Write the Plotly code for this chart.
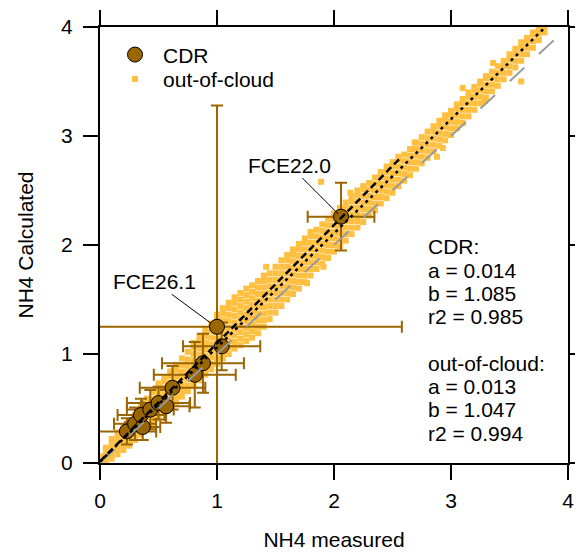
import plotly.graph_objects as go

# ---------------- data ----------------
# CDR points (NH4 measured, NH4 calculated) with error bars
cdr_x = [0.23, 0.30, 0.365, 0.35, 0.43, 0.50, 0.565, 0.62, 0.81, 0.88, 1.04, 1.00, 2.06]
cdr_y = [0.29, 0.36, 0.33, 0.44, 0.49, 0.55, 0.52, 0.69, 0.81, 0.915, 1.07, 1.25, 2.26]
cdr_ex = [0.25, 0.18, 0.15, 0.20, 0.20, 0.27, 0.20, 0.28, 0.35, 0.35, 0.33, 1.58, 0.285]
cdr_ey = [0.12, 0.15, 0.12, 0.15, 0.18, 0.15, 0.15, 0.20, 0.30, 0.27, 0.22, 2.03, 0.31]

# out-of-cloud points, read column by column from the dense band
ooc_columns = [
    (0.00, [-0.01, 0.03, 0.06]),
    (0.05, [0.00, 0.05, 0.10, 0.14]),
    (0.10, [0.04, 0.09, 0.14, 0.19, 0.22]),
    (0.15, [0.08, 0.13, 0.18, 0.23, 0.28]),
    (0.20, [0.12, 0.17, 0.22, 0.28, 0.33]),
    (0.25, [0.16, 0.21, 0.27, 0.33, 0.39]),
    (0.30, [0.21, 0.26, 0.32, 0.38, 0.44]),
    (0.35, [0.26, 0.31, 0.37, 0.43, 0.49, 0.52]),
    (0.40, [0.31, 0.36, 0.42, 0.48, 0.54, 0.59]),
    (0.45, [0.36, 0.41, 0.47, 0.53, 0.59, 0.65]),
    (0.50, [0.41, 0.46, 0.52, 0.58, 0.64, 0.70, 0.73]),
    (0.55, [0.46, 0.51, 0.57, 0.63, 0.69, 0.75, 0.78]),
    (0.60, [0.51, 0.56, 0.62, 0.68, 0.74, 0.80, 0.84]),
    (0.65, [0.56, 0.61, 0.67, 0.73, 0.79, 0.85, 0.90]),
    (0.70, [0.61, 0.66, 0.72, 0.78, 0.84, 0.90, 0.96]),
    (0.75, [0.66, 0.71, 0.77, 0.83, 0.89, 0.95, 1.02]),
    (0.80, [0.71, 0.76, 0.82, 0.88, 0.94, 1.00, 1.06, 1.10]),
    (0.85, [0.76, 0.81, 0.87, 0.93, 0.99, 1.05, 1.11, 1.16]),
    (0.90, [0.81, 0.86, 0.92, 0.98, 1.04, 1.10, 1.16, 1.22]),
    (0.95, [0.86, 0.91, 0.97, 1.03, 1.09, 1.15, 1.21, 1.28]),
    (1.00, [0.91, 0.96, 1.02, 1.08, 1.14, 1.20, 1.26, 1.32, 1.36]),
    (1.05, [0.96, 1.01, 1.07, 1.13, 1.19, 1.25, 1.31, 1.37, 1.42]),
    (1.10, [1.00, 1.06, 1.12, 1.18, 1.24, 1.30, 1.36, 1.42, 1.47]),
    (1.15, [1.05, 1.11, 1.17, 1.23, 1.29, 1.35, 1.41, 1.47, 1.52]),
    (1.20, [1.08, 1.14, 1.20, 1.26, 1.32, 1.38, 1.44, 1.50, 1.56]),
    (1.25, [1.12, 1.18, 1.24, 1.30, 1.36, 1.42, 1.48, 1.54, 1.60]),
    (1.30, [1.15, 1.21, 1.27, 1.33, 1.39, 1.45, 1.51, 1.57, 1.63]),
    (1.35, [1.19, 1.25, 1.31, 1.37, 1.43, 1.49, 1.55, 1.61, 1.67]),
    (1.40, [1.25, 1.31, 1.37, 1.43, 1.49, 1.55, 1.61, 1.67, 1.72]),
    (1.45, [1.32, 1.38, 1.44, 1.50, 1.56, 1.62, 1.68, 1.74]),
    (1.50, [1.38, 1.44, 1.50, 1.56, 1.62, 1.68, 1.74, 1.80]),
    (1.55, [1.44, 1.50, 1.56, 1.62, 1.68, 1.74, 1.80, 1.86]),
    (1.60, [1.50, 1.56, 1.62, 1.68, 1.74, 1.80, 1.86, 1.91]),
    (1.65, [1.55, 1.61, 1.67, 1.73, 1.79, 1.85, 1.91, 1.96]),
    (1.70, [1.60, 1.66, 1.72, 1.78, 1.84, 1.90, 1.96, 2.01]),
    (1.75, [1.66, 1.72, 1.78, 1.84, 1.90, 1.96, 2.02, 2.06]),
    (1.80, [1.72, 1.78, 1.84, 1.90, 1.96, 2.02, 2.08, 2.12]),
    (1.85, [1.78, 1.84, 1.90, 1.96, 2.02, 2.08, 2.14]),
    (1.90, [1.83, 1.89, 1.95, 2.01, 2.07, 2.13, 2.19]),
    (1.95, [1.88, 1.94, 2.00, 2.06, 2.12, 2.18, 2.24]),
    (2.00, [1.94, 2.00, 2.06, 2.12, 2.18, 2.24, 2.29]),
    (2.05, [1.99, 2.05, 2.11, 2.17, 2.23, 2.29, 2.34]),
    (2.10, [2.04, 2.10, 2.16, 2.22, 2.28, 2.34, 2.39]),
    (2.15, [2.10, 2.16, 2.22, 2.28, 2.34, 2.40, 2.44]),
    (2.20, [2.16, 2.22, 2.28, 2.34, 2.40, 2.46, 2.50]),
    (2.25, [2.21, 2.27, 2.33, 2.39, 2.45, 2.51, 2.54]),
    (2.30, [2.27, 2.33, 2.39, 2.45, 2.51, 2.57]),
    (2.35, [2.32, 2.38, 2.44, 2.50, 2.56, 2.62]),
    (2.40, [2.38, 2.44, 2.50, 2.56, 2.62, 2.67]),
    (2.45, [2.43, 2.49, 2.55, 2.61, 2.67, 2.72]),
    (2.50, [2.48, 2.54, 2.60, 2.66, 2.72, 2.76]),
    (2.55, [2.54, 2.60, 2.66, 2.72, 2.78, 2.81]),
    (2.60, [2.59, 2.65, 2.71, 2.77, 2.83]),
    (2.65, [2.64, 2.70, 2.76, 2.82, 2.88]),
    (2.70, [2.70, 2.76, 2.82, 2.88, 2.94]),
    (2.75, [2.75, 2.81, 2.87, 2.93, 2.99]),
    (2.80, [2.80, 2.86, 2.92, 2.98, 3.04]),
    (2.85, [2.86, 2.92, 2.98, 3.04, 3.09]),
    (2.90, [2.91, 2.97, 3.03, 3.09, 3.14]),
    (2.95, [2.96, 3.02, 3.08, 3.14, 3.19]),
    (3.00, [3.01, 3.07, 3.13, 3.19, 3.23]),
    (3.05, [3.07, 3.13, 3.19, 3.25, 3.29]),
    (3.10, [3.12, 3.18, 3.24, 3.30, 3.34]),
    (3.15, [3.18, 3.24, 3.30, 3.36, 3.40]),
    (3.20, [3.24, 3.30, 3.36, 3.42, 3.45]),
    (3.25, [3.30, 3.36, 3.42, 3.48, 3.50]),
    (3.30, [3.35, 3.41, 3.47, 3.53, 3.55]),
    (3.35, [3.41, 3.47, 3.53, 3.59]),
    (3.40, [3.46, 3.52, 3.58, 3.64]),
    (3.45, [3.52, 3.58, 3.64, 3.69]),
    (3.50, [3.58, 3.64, 3.70, 3.75]),
    (3.55, [3.63, 3.69, 3.75, 3.80]),
    (3.60, [3.69, 3.75, 3.81, 3.86]),
    (3.65, [3.75, 3.81, 3.87, 3.90]),
    (3.70, [3.81, 3.87, 3.93, 3.95]),
    (3.75, [3.88, 3.94, 3.99]),
    (3.80, [3.95, 4.00]),
]
# isolated out-of-cloud points
ooc_out_x = [3.60, 3.36, 3.10, 3.29, 2.69, 2.93, 2.88, 1.89, 2.14, 1.42, 1.91, 1.77]
ooc_out_y = [3.50, 3.67, 3.44, 3.32, 2.94, 2.89, 2.81, 2.58, 2.48, 1.80, 1.80, 1.65]

# fit lines and 1:1 line (end points)
cdr_fit_x = [0.0, 2.56]
cdr_fit_y = [0.014, 2.79]
ooc_fit_x = [0.0, 3.80]
ooc_fit_y = [0.013, 3.992]
one_x = [0.0, 4.0]
one_y = [0.0, 4.0]

tick_vals = [0, 1, 2, 3, 4]
stats_lines = ["CDR:", "a = 0.014", "b = 1.085", "r2 = 0.985", "",
               "out-of-cloud:", "a = 0.013", "b = 1.047", "r2 = 0.994"]

# ---------------- figure ----------------
ooc_x = []
ooc_y = []
for cx, ys in ooc_columns:
    for yv in ys:
        ooc_x.append(cx)
        ooc_y.append(yv)
ooc_x += ooc_out_x
ooc_y += ooc_out_y

FONT = "Liberation Sans, Arial, sans-serif"
FS = 21
BROWN = "#996600"
ORANGE = "#FFBF40"

# the page body adds an 8px offset, so the figure is 8px smaller on each axis
W, H = 575, 546
ML, MR, MT, MB = 92, 15, 19, 91
PW = W - ML - MR
PH = H - MT - MB

fig = go.Figure()
fig.add_trace(go.Scatter(
    x=ooc_x, y=ooc_y, mode="markers", name="out-of-cloud", legend="legend2",
    marker=dict(symbol="square", size=6, color=ORANGE, line=dict(width=0))))
fig.add_trace(go.Scatter(
    x=cdr_x, y=cdr_y, mode="markers", name="CDR", legend="legend",
    marker=dict(symbol="circle", size=15, color=BROWN, line=dict(color="black", width=1)),
    error_x=dict(type="data", array=cdr_ex, color=BROWN, thickness=2, width=6),
    error_y=dict(type="data", array=cdr_ey, color=BROWN, thickness=2, width=6)))
fig.add_trace(go.Scatter(
    x=one_x, y=one_y, mode="lines", showlegend=False,
    line=dict(color="#999999", width=2, dash="20px,20px")))
fig.add_trace(go.Scatter(
    x=cdr_fit_x, y=cdr_fit_y, mode="lines", showlegend=False,
    line=dict(color="black", width=2.5, dash="7px,4px")))
fig.add_trace(go.Scatter(
    x=ooc_fit_x, y=ooc_fit_y, mode="lines", showlegend=False,
    line=dict(color="black", width=2.5, dash="3px,4px")))

axis_common = dict(
    range=[0, 4], tickvals=tick_vals, ticks="outside", ticklen=15, tickwidth=2,
    tickcolor="black", showline=True, linewidth=2, linecolor="black", mirror="ticks",
    showgrid=False, zeroline=False, automargin=False,
    tickfont=dict(size=FS, family=FONT, color="black"),
)
fig.update_xaxes(**axis_common, ticklabelstandoff=3,
                 title=dict(text="NH4 measured", font=dict(size=FS, family=FONT, color="black"), standoff=21))
fig.update_yaxes(**axis_common, ticklabelstandoff=6,
                 title=dict(text="NH4 Calculated", font=dict(size=FS, family=FONT, color="black"), standoff=22))

fig.add_annotation(x=0.949, y=1.282, xref="x", yref="y", text="FCE26.1",
                   showarrow=True, arrowhead=0, arrowwidth=1, arrowcolor="black",
                   ax=-57, ay=-42, font=dict(size=FS, family=FONT, color="black"))
fig.add_annotation(x=2.037, y=2.284, xref="x", yref="y", text="FCE22.0",
                   showarrow=True, arrowhead=0, arrowwidth=1, arrowcolor="black",
                   ax=-49, ay=-49, font=dict(size=FS, family=FONT, color="black"))

# statistics block, one annotation per line for tight line spacing
stats_left_px = 418
stats_top_center_px = 238.7
stats_step_px = 23.3
for k, line in enumerate(stats_lines):
    if not line:
        continue
    ypx = stats_top_center_px + stats_step_px * k
    fig.add_annotation(x=(stats_left_px - ML) / PW, y=(H - MB - ypx) / PH,
                       xref="paper", yref="paper", xanchor="left", yanchor="middle",
                       align="left", showarrow=False, text=line,
                       font=dict(size=FS, family=FONT, color="black"))

legend_common = dict(xanchor="left", yanchor="top", bgcolor="rgba(0,0,0,0)",
                     font=dict(size=FS, family=FONT, color="black"), itemwidth=46,
                     tracegroupgap=0)
fig.update_layout(
    width=W, height=H,
    margin=dict(l=ML, r=MR, t=MT, b=MB),
    paper_bgcolor="white", plot_bgcolor="white",
    font=dict(family=FONT, size=FS, color="black"),
    showlegend=True,
    legend=dict(x=0.015, y=0.983, **legend_common),
    legend2=dict(x=0.015, y=0.927, **legend_common),
)

fig.write_html("out.html")
